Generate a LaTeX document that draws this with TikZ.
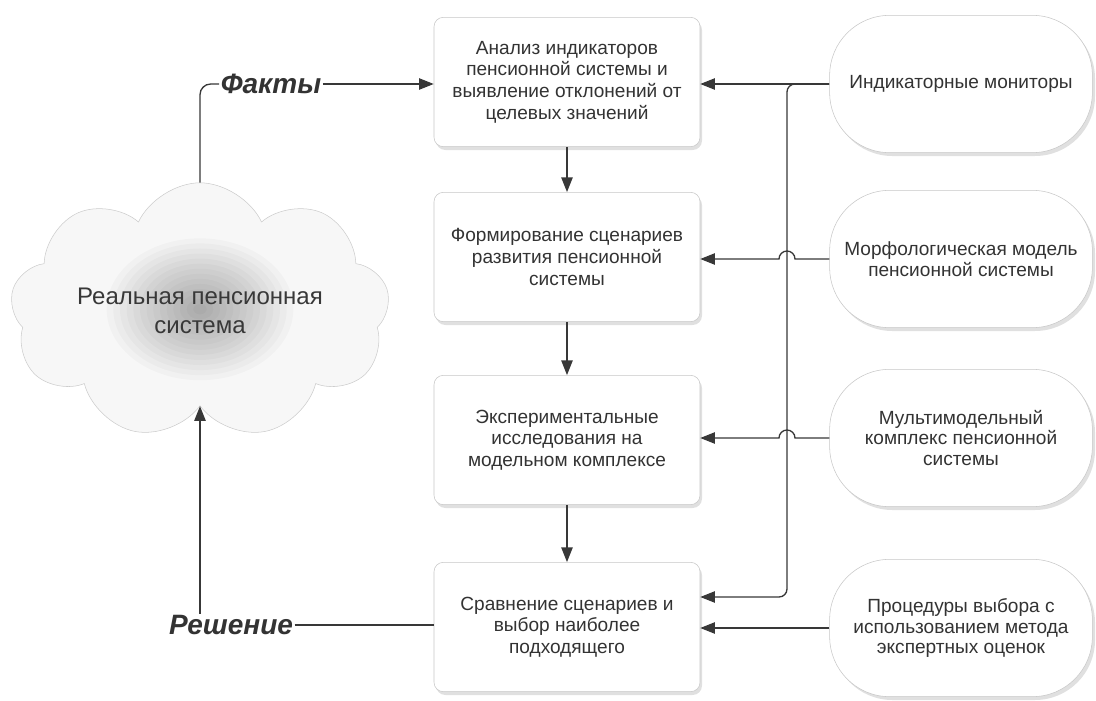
\documentclass[tikz,border=0pt]{standalone}
\usepackage{fontspec}
\setmainfont{Liberation Sans}
\usetikzlibrary{shapes.symbols,shapes.misc,arrows.meta,shadows}
\begin{document}
\begin{tikzpicture}[x=0.75pt,y=-0.75pt,
  line/.style={draw=black!78, line width=1pt},
  arr/.style={line, -{Triangle[length=11pt,width=8.5pt]}},
  stepbox/.style={draw=black!22, fill=white, rounded corners=7pt,
    minimum width=199.5pt, minimum height=97pt, align=center,
    font=\fontsize{14.3}{16.3}\selectfont, text=black!80,
    drop shadow={shadow xshift=1.5pt, shadow yshift=-2.5pt, opacity=0.35, fill=black!35}},
  tool/.style={draw=black!22, fill=white, rounded corners=45pt,
    minimum width=197pt, minimum height=103pt, align=center,
    font=\fontsize{14.3}{15.5}\selectfont, text=black!80,
    drop shadow={shadow xshift=2pt, shadow yshift=-2.5pt, opacity=0.35, fill=black!35}},
  lab/.style={font=\fontsize{21}{24}\selectfont\bfseries\itshape, text=black!80, inner sep=1pt}
]
\useasboundingbox (0,0) rectangle (1096,700);

% cloud
\node[cloud, cloud puffs=9, cloud puff arc=130, aspect=1.9,
  minimum width=245pt, minimum height=100pt, draw=black!20, fill=black!3,
  path picture={\foreach \k in {1,...,14}
    {\fill[black, opacity=0.022] (path picture bounding box.center)
       ellipse [x radius=\k*5pt, y radius=\k*3.8pt];}},
  text=black!78, font=\fontsize{18}{22}\selectfont, align=center]
  (cloud) at (200,311) {Реальная пенсионная\\система};

% process boxes
\node[stepbox] (b1) at (567,82) {Анализ индикаторов\\пенсионной системы и\\выявление отклонений от\\целевых значений};
\node[stepbox] (b2) at (567,257) {Формирование сценариев\\развития пенсионной\\системы};
\node[stepbox] (b3) at (567,440) {Экспериментальные\\исследования на\\модельном комплексе};
\node[stepbox] (b4) at (567,627) {Сравнение сценариев и\\выбор наиболее\\подходящего};

% tools
\node[tool] (o1) at (961,84) {Индикаторные мониторы};
\node[tool] (o2) at (961,259) {Морфологическая модель\\пенсионной системы};
\node[tool] (o3) at (961,438) {Мультимодельный\\комплекс пенсионной\\системы};
\node[tool] (o4) at (961,628) {Процедуры выбора с\\использованием метода\\экспертных оценок};

% labels
\node[lab] (fakty) at (271,84) {Факты};
\node[lab] (resh) at (231,625) {Решение};

% vertical flow
\draw[arr] (b1.south) -- (b2.north);
\draw[arr] (b2.south) -- (b3.north);
\draw[arr] (b3.south) -- (b4.north);

% left loop
\draw[line, rounded corners=8pt] (cloud.north) |- (fakty.west);
\draw[arr] (fakty.east) -- (fakty.east -| b1.west);
\draw[line] (resh.east) -- (resh.east -| b4.west);
\draw[arr] (resh.north -| cloud.south) -- (cloud.south);

% right side
\coordinate (bt) at (787,84);
\coordinate (bb) at (787,597);
\draw[arr] (o1.west) -- (o1.west -| b1.east);
\draw[arr, rounded corners=6pt] (o1.west) -- (bt) -- (bb) -- (bb -| b4.east);
\draw[arr] (o2.west) -- (795,259) arc[start angle=0, end angle=180, radius=6pt] -- (o2.west -| b2.east);
\draw[arr] (o3.west) -- (795,438) arc[start angle=0, end angle=180, radius=6pt] -- (o3.west -| b3.east);
\draw[arr] (o4.west) -- (o4.west -| b4.east);
\end{tikzpicture}
\end{document}
